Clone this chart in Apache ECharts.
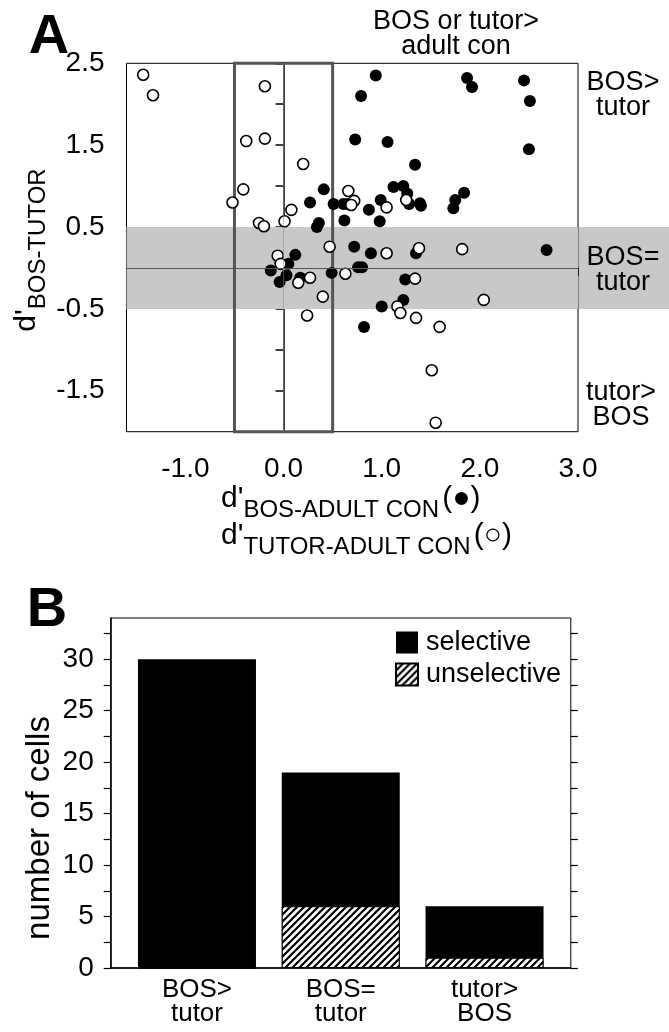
<!DOCTYPE html>
<html>
<head>
<meta charset="utf-8">
<script src="https://cdn.jsdelivr.net/npm/echarts@6/dist/echarts.min.js"></script>
<style>
html, body { margin: 0; padding: 0; background: #fff; }
#chart { width: 669px; height: 1032px; }
</style>
</head>
<body>
<div id="chart"></div>
<script>
// panel A: filled = d'BOS-ADULT CON, open = d'TUTOR-ADULT CON, y = d'BOS-TUTOR
const filledX = [0.94, 0.79, 1.87, 1.92, 2.45, 2.51, 0.73, 1.06, 2.50, 1.34, 0.41, 1.12, 1.22, 1.26, 1.84,
  0.27, 0.51, 0.61, 0.65, 0.99, 1.28, 1.39, 1.40, 1.75, 1.73, 0.87, 0.62, 0.98, 0.36, 0.34,
  0.72, 0.89, 1.35, 2.68, 0.12, 0.05, -0.13, 0.03, -0.04, 0.17, 0.49, 0.76, 0.80, 1.24, 1.22, 1.00, 0.82]
const filledY = [2.35, 2.10, 2.32, 2.21, 2.29, 2.04, 1.57, 1.54, 1.45, 1.26, 0.96, 0.99, 1.00, 0.91, 0.92,
  0.80, 0.78, 0.78, 0.78, 0.83, 0.78, 0.79, 0.76, 0.83, 0.73, 0.71, 0.58, 0.57, 0.55, 0.50,
  0.26, 0.18, 0.18, 0.22, 0.16, 0.05, -0.03, -0.09, -0.17, -0.12, -0.06, 0.01, 0.01, -0.14, -0.39, -0.47, -0.72]
const openX = [-1.43, -1.33, -0.19, -0.38, -0.19, 0.20, -0.41, -0.52, 0.08, 0.01, -0.25, -0.20, 0.66, 0.72, 0.69,
  1.05, 1.25, -0.06, -0.03, 0.27, 0.15, 0.40, 0.24, 0.47, 0.63, 1.05, 1.38, 1.34, 1.82, 2.04,
  1.16, 1.19, 1.35, 1.59, 1.51, 1.55]
const openY = [2.36, 2.11, 2.22, 1.55, 1.58, 1.27, 0.96, 0.80, 0.71, 0.57, 0.55, 0.51, 0.94, 0.82, 0.77,
  0.74, 0.83, 0.15, 0.05, -0.12, -0.18, -0.35, -0.58, 0.26, -0.07, 0.18, 0.24, -0.13, 0.23, -0.39,
  -0.47, -0.55, -0.61, -0.72, -1.25, -1.89]
const equalBand = [-0.5, 0.5]
const nearZeroBox = [-0.5, 0.5]
const xTicksA = [-1.5, -1.0, -0.5, 0, 0.5, 1.0, 1.5, 2.0, 2.5, 3.0]
const xLabelsA = [-1, 0, 1, 2, 3]
const yTicksA = [-2.0, -1.5, -1.0, -0.5, 0, 0.5, 1.0, 1.5, 2.0, 2.5]
const yLabelsA = [2.5, 1.5, 0.5, -0.5, -1.5]

// panel B
const groups = ['BOS>\ntutor', 'BOS=\ntutor', 'tutor>\nBOS']
const selective = [30, 13, 5]
const unselective = [0, 6, 1]
const yTicksB = [0, 2.5, 5, 7.5, 10, 12.5, 15, 17.5, 20, 22.5, 25, 27.5, 30, 32.5]
const yLabelsB = [0, 5, 10, 15, 20, 25, 30]

const FONT = '"Liberation Sans", Arial, sans-serif'

function hatch() {
  const s = 7
  const c = document.createElement('canvas')
  c.width = s; c.height = s
  const g = c.getContext('2d')
  g.fillStyle = '#fff'
  g.fillRect(0, 0, s, s)
  g.strokeStyle = '#000'
  g.lineWidth = 2.2
  g.beginPath()
  g.moveTo(-1, s + 1); g.lineTo(s + 1, -1)
  g.moveTo(-1, 1); g.lineTo(1, -1)
  g.moveTo(s - 1, s + 1); g.lineTo(s + 1, s - 1)
  g.stroke()
  return c
}
const hatchFill = { image: hatch(), repeat: 'repeat' }

const chart = echarts.init(document.getElementById('chart'))

const axisLine = { lineStyle: { color: '#000', width: 1.5 } }
const lbl = { color: '#000', fontSize: 28, fontFamily: FONT }

const sub = {
  d: { fontSize: 30, fontFamily: FONT, color: '#000', lineHeight: 38, verticalAlign: 'top' },
  s: { fontSize: 24, fontFamily: FONT, color: '#000', lineHeight: 24, verticalAlign: 'bottom' },
  p: { fontSize: 30, fontFamily: FONT, color: '#000', lineHeight: 38, verticalAlign: 'top' }
}

// bars overlap: total (selective part on top) drawn first, unselective part over its base
const totals = selective.map((v, i) => v + unselective[i])

const option = {
  backgroundColor: '#fff',
  animation: false,
  grid: [
    { left: 126.5, right: 91, top: 63.3, bottom: 600.3, show: true, borderColor: '#000', borderWidth: 1 },
    { left: 110.7, right: 98.2, top: 618, bottom: 64, show: true, borderColor: '#000', borderWidth: 1 }
  ],
  xAxis: [
    {
      gridIndex: 0, type: 'value', min: -1.6, max: 3.0,
      axisLine: axisLine,
      axisTick: { show: true, customValues: xTicksA, length: 8, lineStyle: { color: '#000', width: 1.5 } },
      axisLabel: { customValues: xLabelsA, formatter: v => v.toFixed(1), margin: 24, ...lbl },
      splitLine: { show: false }
    },
    {
      gridIndex: 1, type: 'value', min: 0.4, max: 3.6,
      axisLine: axisLine,
      axisTick: { show: false },
      axisLabel: { customValues: [1, 2, 3], formatter: v => groups[Math.round(v) - 1], margin: 10, lineHeight: 24, ...lbl, fontSize: 26 },
      splitLine: { show: false }
    }
  ],
  yAxis: [
    {
      gridIndex: 0, type: 'value', min: -2.0, max: 2.5,
      axisLine: axisLine,
      axisTick: { show: true, customValues: yTicksA, length: 8, lineStyle: { color: '#000', width: 1.5 } },
      axisLabel: { customValues: yLabelsA, formatter: v => v.toFixed(1), margin: 22, ...lbl },
      splitLine: { show: false }
    },
    {
      gridIndex: 1, type: 'value', min: 0, max: 34,
      axisLine: axisLine,
      axisTick: { show: true, customValues: yTicksB, length: 7, lineStyle: { color: '#000', width: 1.2 } },
      axisLabel: { customValues: yLabelsB, margin: 17, ...lbl },
      splitLine: { show: false }
    },
    {
      gridIndex: 1, type: 'value', min: 0, max: 34, position: 'right',
      axisLine: { show: false },
      axisTick: { show: true, customValues: yTicksB, length: 7, lineStyle: { color: '#000', width: 1.2 } },
      axisLabel: { show: false },
      splitLine: { show: false }
    }
  ],
  legend: {
    data: ['selective', 'unselective'],
    orient: 'vertical',
    left: 395, top: 629,
    padding: 0,
    icon: 'rect',
    itemWidth: 22, itemHeight: 22, itemGap: 5,
    selectedMode: false,
    textStyle: { color: '#000', fontSize: 27, fontFamily: FONT, lineHeight: 22, padding: [0, 0, 0, 3] }
  },
  series: [
    {
      // reference regions of panel A
      type: 'line', xAxisIndex: 0, yAxisIndex: 0, data: [], z: 1, silent: true,
      markArea: {
        silent: true,
        data: [
          [{ yAxis: equalBand[0], itemStyle: { color: '#c8c8c8', borderWidth: 0 } }, { yAxis: equalBand[1] }],
          [{ xAxis: nearZeroBox[0], itemStyle: { color: 'rgba(0,0,0,0)', borderColor: '#555', borderWidth: 3 } }, { xAxis: nearZeroBox[1] }]
        ]
      },
      markLine: {
        silent: true, symbol: 'none', label: { show: false },
        data: [
          { yAxis: 0, lineStyle: { color: '#555', width: 1, type: 'solid' } },
          { xAxis: 0, lineStyle: { color: '#888', width: 1, type: 'dotted' } }
        ]
      }
    },
    {
      name: 'bos', type: 'scatter', xAxisIndex: 0, yAxisIndex: 0, z: 3,
      symbolSize: 12,
      itemStyle: { color: '#000', opacity: 1 },
      data: filledX.map((x, i) => [x, filledY[i]])
    },
    {
      name: 'tutor', type: 'scatter', xAxisIndex: 0, yAxisIndex: 0, z: 4,
      symbolSize: 11,
      itemStyle: { color: '#fff', borderColor: '#000', borderWidth: 1.6, opacity: 1 },
      data: openX.map((x, i) => [x, openY[i]])
    },
    {
      name: 'selective', type: 'bar', xAxisIndex: 1, yAxisIndex: 1, z: 2,
      barWidth: 118, barGap: '-100%',
      itemStyle: { color: '#000' },
      data: totals.map((v, i) => [i + 1, v])
    },
    {
      name: 'unselective', type: 'bar', xAxisIndex: 1, yAxisIndex: 1, z: 3,
      barWidth: 118, barGap: '-100%',
      itemStyle: { color: hatchFill, borderColor: '#000', borderWidth: 1 },
      data: unselective.map((v, i) => [i + 1, v])
    }
  ]
}

chart.setOption(option)

// band continues past the right frame under the side labels
const pTop = chart.convertToPixel({ xAxisIndex: 0, yAxisIndex: 0 }, [3.0, equalBand[1]])
const pBot = chart.convertToPixel({ xAxisIndex: 0, yAxisIndex: 0 }, [3.0, equalBand[0]])

const txt = (x, y, text, extra) => ({
  type: 'text', x: x, y: y, z: 10,
  style: Object.assign({ text: text, fill: '#000', font: '27px ' + FONT, align: 'center', verticalAlign: 'middle', lineHeight: 25 }, extra || {})
})

chart.setOption({
  graphic: [
    { type: 'rect', z: 0, shape: { x: pTop[0] + 1, y: pTop[1], width: 669 - pTop[0], height: pBot[1] - pTop[1] }, style: { fill: '#c8c8c8' } },
    txt(49, 38, 'A', { font: 'bold 56px ' + FONT }),
    txt(47, 611, 'B', { font: 'bold 56px ' + FONT }),
    txt(456, 34, 'BOS or tutor>\nadult con'),
    txt(623, 95, 'BOS>\ntutor'),
    txt(623, 270, 'BOS=\ntutor'),
    txt(621, 405, 'tutor>\nBOS'),
    {
      type: 'text', x: 31, y: 250, rotation: Math.PI / 2, z: 10,
      style: { text: "{d|d'}{s|BOS-TUTOR}", rich: sub, align: 'center', verticalAlign: 'middle' }
    },
    {
      type: 'text', x: 221, y: 503, z: 10,
      style: { text: "{d|d'}{s|BOS-ADULT CON} {p|(●)}", rich: sub, align: 'left', verticalAlign: 'middle' }
    },
    {
      type: 'text', x: 221, y: 540, z: 10,
      style: { text: "{d|d'}{s|TUTOR-ADULT CON} {p|(○)}", rich: sub, align: 'left', verticalAlign: 'middle' }
    },
    {
      type: 'text', x: 40, y: 828, rotation: Math.PI / 2, z: 10,
      style: { text: 'number of cells', fill: '#000', font: '33px ' + FONT, align: 'center', verticalAlign: 'middle' }
    }
  ]
})
</script>
</body>
</html>
